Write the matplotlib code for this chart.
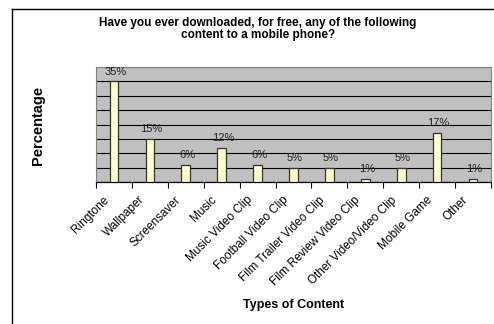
import matplotlib
matplotlib.use('Agg')
import matplotlib.pyplot as plt
import matplotlib.transforms as mtransforms
from matplotlib.lines import Line2D
import numpy as np

categories = ['Ringtone', 'Wallpaper', 'Screensaver', 'Music', 'Music Video Clip',
              'Football Video Clip', 'Film Trailer Video Clip', 'Film Review Video Clip',
              'Other Video/Video Clip', 'Mobile Game', 'Other']
values = [35, 15, 6, 12, 6, 5, 5, 1, 5, 17, 1]
labels = ['35%', '15%', '6%', '12%', '6%', '5%', '5%', '1%', '5%', '17%', '1%']

plt.rcParams['font.family'] = ['Liberation Sans', 'DejaVu Sans']

fig = plt.figure(figsize=(4.94, 3.24), dpi=100)
ax = fig.add_axes([96/494, 1-182/324, 395/494, 115/324])

x = np.arange(len(categories))
ax.set_facecolor('#c0c0c0')
ax.set_axisbelow(True)
ax.yaxis.grid(True, color='black', linewidth=0.8)
ax.bar(x, values, width=0.24, color='#ffffcc', edgecolor='#333333', linewidth=0.9, zorder=3)

for xi, v, lab in zip(x, values, labels):
    ax.annotate(lab, (xi, v), xytext=(1, 3.5), textcoords='offset points',
                ha='center', va='bottom', fontsize=8, color='#222222', zorder=4)

ax.set_xlim(-0.5, len(categories) - 0.5)
ax.set_ylim(0, 40)
ax.set_yticks(np.arange(0, 41, 5))
ax.tick_params(axis='y', left=False, labelleft=False)

ax.set_xticks(np.arange(-0.5, len(categories), 1.0))
ax.set_xticklabels([])
ax.tick_params(axis='x', length=4, width=0.8, direction='out', color='black')
ax.set_xticks(x, minor=True)
ax.set_xticklabels(categories, minor=True, rotation=45, ha='right',
                   rotation_mode='anchor', fontsize=8.5)
ax.tick_params(axis='x', which='minor', length=0, pad=5)
shift = mtransforms.ScaledTranslation(-11/100, -5/100, fig.dpi_scale_trans)
for t in ax.get_xticklabels(minor=True):
    t.set_transform(t.get_transform() + shift)

for s in ['top', 'right', 'left']:
    ax.spines[s].set_color('#808080')
    ax.spines[s].set_linewidth(0.8)
ax.spines['bottom'].set_color('black')
ax.spines['bottom'].set_linewidth(0.9)

fig.text(258/494, 1-29/324, 'Have you ever downloaded, for free, any of the following\ncontent to a mobile phone?',
         ha='center', va='center', fontsize=8.5, fontweight='bold', linespacing=1.0)
fig.text(38/494, 1-125/324, 'Percentage', rotation=90, ha='center', va='center',
         fontsize=10.5, fontweight='bold')
fig.text(294/494, 1-305/324, 'Types of Content', ha='center', va='center',
         fontsize=9, fontweight='bold')

fig.add_artist(Line2D([12/494, 12/494], [0, 1-9/324], color='black', linewidth=1))
fig.add_artist(Line2D([12/494, 1], [1-9/324, 1-9/324], color='black', linewidth=1))

fig.savefig('out.png', dpi=100)
